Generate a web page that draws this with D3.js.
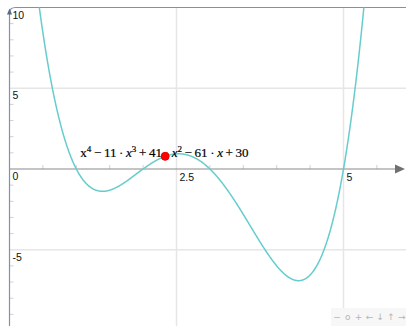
<!DOCTYPE html>
<html>
<head>
<meta charset="utf-8">
<script src="https://cdn.jsdelivr.net/npm/d3@7"></script>
<style>
  html, body { margin: 0; padding: 0; background: #fff; }
  svg { display: block; }
</style>
</head>
<body>
<svg id="board" width="406" height="326"></svg>
<script>
// Polynomial coefficients, highest power first: x^4 - 11x^3 + 41x^2 - 61x + 30
const coefficients = [1, -11, 41, -61, 30];
// The glider point sitting on the curve
const pointX = [2.33];
// Axis tick labels
const xTickLabels = [0, 2.5, 5];
const yTickLabels = [10, 5, 0, -5];
// Grid lines (major ticks)
const xGrid = [2.5, 5];
const yGrid = [5, -5];
// Navigation bar symbols
const navSymbols = ["\u2212", "o", "+", "\u2190", "\u2193", "\u2191", "\u2192"];

const W = 406, H = 326;
const padL = 9.5, padT = 7.5;

const x = d3.scaleLinear().domain([0, 5]).range([padL, 343.5]);
const y = d3.scaleLinear().domain([0, 10]).range([169, padT]);

const poly = v => coefficients.reduce((acc, c) => acc * v + c, 0);

const svg = d3.select("#board");

svg.append("defs").append("clipPath").attr("id", "clip")
  .append("rect").attr("x", padL).attr("y", padT).attr("width", W - padL).attr("height", H - padT);

// grid
const grid = svg.append("g").attr("stroke", "#e6e6e6").attr("stroke-width", 1.5);
grid.selectAll(".gx").data(xGrid).join("line")
  .attr("x1", d => x(d)).attr("x2", d => x(d)).attr("y1", padT).attr("y2", H);
grid.selectAll(".gy").data(yGrid).join("line")
  .attr("x1", padL).attr("x2", W).attr("y1", d => y(d)).attr("y2", d => y(d));

// minor ticks
const xDom = x.invert(W), yDom = y.invert(H);
const xMinor = d3.range(0.5, xDom, 0.5).filter(v => !xGrid.includes(v));
const yMinor = d3.range(Math.ceil(yDom), 10, 1).filter(v => v !== 0 && !yGrid.includes(v));
svg.append("g").attr("stroke", "#d0d0d0").attr("stroke-width", 1)
  .selectAll("line").data(xMinor).join("line")
  .attr("x1", d => x(d)).attr("x2", d => x(d)).attr("y1", y(0) - 4).attr("y2", y(0));
svg.append("g").attr("stroke", "#d0d0d0").attr("stroke-width", 1)
  .selectAll("line").data(yMinor).join("line")
  .attr("x1", padL).attr("x2", padL + 4).attr("y1", d => y(d)).attr("y2", d => y(d));

// board frame (rounded corner at top left)
const r = 6;
svg.append("path")
  .attr("d", `M${padL},${H} V${padT + r} Q${padL},${padT} ${padL + r},${padT} H${W}`)
  .attr("fill", "none").attr("stroke", "#7d92b0").attr("stroke-width", 1.2);

// x axis with arrow
svg.append("line").attr("x1", padL).attr("x2", W - 9).attr("y1", y(0)).attr("y2", y(0))
  .attr("stroke", "#8a8a8a").attr("stroke-width", 1.2);
svg.append("path")
  .attr("d", `M${W - 1},${y(0)} L${W - 11},${y(0) - 4.5} L${W - 11},${y(0) + 4.5} Z`)
  .attr("fill", "#707070");

// y axis arrow
svg.append("path")
  .attr("d", `M${padL},${padT + 1} L${padL + 2.5},${padT + 7} L${padL - 2.5},${padT + 7} Z`)
  .attr("fill", "#5a6a80");

// tick labels
const lab = svg.append("g").attr("font-family", "Liberation Sans, Arial, sans-serif")
  .attr("font-size", 10.5).attr("fill", "#111");
lab.selectAll(".xl").data(xTickLabels.filter(v => v !== 0)).join("text")
  .attr("x", d => x(d) + 3).attr("y", y(0) + 11.5).text(d => d);
lab.selectAll(".yl").data(yTickLabels).join("text")
  .attr("x", padL + 3).attr("y", d => y(d) + 11).text(d => d);

// curve
const xs = d3.range(0, xDom + 0.01, 0.005);
svg.append("path")
  .datum(xs)
  .attr("clip-path", "url(#clip)")
  .attr("d", d3.line().x(d => x(d)).y(d => y(Math.max(-40, Math.min(40, poly(d))))))
  .attr("fill", "none").attr("stroke", "#66cccc").attr("stroke-width", 1.5);

// formula label
const t = svg.append("text")
  .attr("x", x(1.06)).attr("y", y(0.72))
  .attr("font-family", "Liberation Serif, Times New Roman, serif")
  .attr("font-size", 13).attr("fill", "#000")
  .attr("stroke", "#000").attr("stroke-width", 0.2)
  .attr("word-spacing", -0.6);
const parts = [
  ["x", false, false], ["4", false, true], [" \u2212 11 \u00b7 ", false, false],
  ["x", true, false], ["3", false, true], [" + 41 \u00b7 ", false, false],
  ["x", true, false], ["2", false, true], [" \u2212 61 \u00b7 ", false, false],
  ["x", true, false], [" + 30", false, false]
];
parts.forEach(([s, it, sup], i) => {
  const ts = t.append("tspan").text(s)
    .attr("font-style", it ? "italic" : "normal");
  if (sup) ts.attr("font-size", 9).attr("dy", -5.5);
  else if (i > 0 && parts[i - 1][2]) ts.attr("dy", 5.5);
});

// point on the curve
svg.selectAll(".pt").data(pointX).join("circle")
  .attr("cx", d => x(d)).attr("cy", d => y(poly(d))).attr("r", 4)
  .attr("fill", "#ff0000").attr("stroke", "#ee0000").attr("stroke-width", 1);

// navigation bar
const nav = svg.append("g");
nav.append("rect").attr("x", 331).attr("y", 308).attr("width", 75).attr("height", 18)
  .attr("fill", "#f7f7f7");
nav.selectAll("text").data(navSymbols).join("text")
  .attr("x", (d, i) => 337 + i * 10.8).attr("y", 319.5)
  .attr("text-anchor", "middle")
  .attr("font-family", "DejaVu Sans, sans-serif").attr("font-size", 9)
  .attr("fill", "#b5b5b5").text(d => d);
</script>
</body>
</html>
